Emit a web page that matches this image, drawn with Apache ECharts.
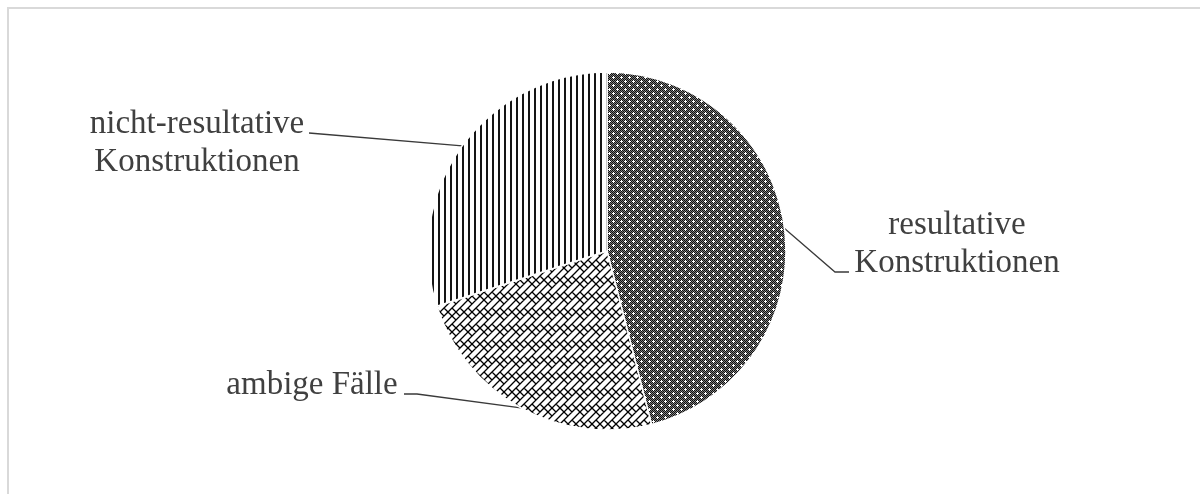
<!DOCTYPE html>
<html><head><meta charset="utf-8">
<script src="https://cdn.jsdelivr.net/npm/echarts@6/dist/echarts.min.js"></script>
<style>
html,body{margin:0;padding:0;background:#fff;overflow:hidden;width:1200px;height:494px;}
#frame{position:absolute;left:7px;top:7px;width:1400px;height:700px;border-left:2px solid #d9d9d9;border-top:2px solid #d9d9d9;}
#chart{position:absolute;left:0;top:0;width:1200px;height:494px;}
</style></head><body>
<div id="frame"></div><div id="chart"></div>
<script>
// ---- data ----
const categories = ['resultative\nKonstruktionen', 'ambige Fälle', 'nicht-resultative\nKonstruktionen'];
const values = [46, 24, 30];

// ---- label placement (layout only) ----
const labelSpots = [
  { x: 957, y: 244, bend: [835, 272], end: [849, 272] },
  { x: 312, y: 385, bend: [417, 394], end: [404, 394] },
  { x: 197, y: 143, bend: [309, 133], end: [309, 133] }
];

// ---- fill patterns ----
function makeTile(w, h, draw) {
  const c = document.createElement('canvas');
  c.width = w; c.height = h;
  const g = c.getContext('2d');
  draw(g, w, h);
  return c;
}
const dotTile = makeTile(8, 8, (g) => {
  for (let y = 0; y < 8; y++) for (let x = 0; x < 8; x++) {
    g.fillStyle = ((x + y) % 2 === 0) ? '#0e0e0e' : '#808080';
    g.fillRect(x, y, 1, 1);
  }
  g.fillStyle = '#ffffff';
  [[1, 1], [5, 5]].forEach(([cx, cy]) => {
    [[0, 0], [1, 0], [-1, 0], [0, 1], [0, -1]].forEach(([dx, dy]) => g.fillRect(cx + dx, cy + dy, 1, 1));
  });
});
const brickTile = makeTile(16, 16, (g) => {
  g.fillStyle = '#fff'; g.fillRect(0, 0, 16, 16);
  g.strokeStyle = '#000'; g.lineWidth = 1.3;
  g.beginPath();
  [0, 8, 16, 24, 32].forEach(c => { g.moveTo(c - 16 - 2, 16 + 2); g.lineTo(c + 2, -2); });
  g.moveTo(4, 4); g.lineTo(8, 8);
  g.moveTo(12, 4); g.lineTo(16, 8);
  g.moveTo(-4, 12); g.lineTo(0, 16);
  g.moveTo(12, 20); g.lineTo(16, 24);
  g.moveTo(4, 12); g.lineTo(8, 16);
  g.moveTo(4, -4); g.lineTo(8, 0);
  g.moveTo(8, 8); g.lineTo(12, 12);
  g.moveTo(0, 8); g.lineTo(4, 12);
  g.moveTo(16, 8); g.lineTo(20, 12);
  g.moveTo(8, -8); g.lineTo(12, -4);
  g.stroke();
});
const vlineTile = makeTile(6, 6, (g) => {
  g.fillStyle = '#fff'; g.fillRect(0, 0, 6, 6);
  g.fillStyle = '#151515'; g.fillRect(0, 0, 2, 6);
});
const patterns = [dotTile, brickTile, vlineTile];

const chart = echarts.init(document.getElementById('chart'), null, { renderer: 'canvas' });
chart.setOption({
  animation: false,
  backgroundColor: 'transparent',
  series: [{
    type: 'pie',
    center: [607, 251],
    radius: 179,
    startAngle: 90,
    clockwise: true,
    avoidLabelOverlap: false,
    data: categories.map((name, i) => ({
      name: name,
      value: values[i],
      itemStyle: { color: { image: patterns[i], repeat: 'repeat' } }
    })),
    itemStyle: { borderColor: '#ffffff', borderWidth: 1.5 },
    label: {
      show: true,
      position: 'outside',
      formatter: '{b}',
      fontFamily: 'Liberation Serif',
      fontSize: 33,
      lineHeight: 38,
      color: '#404040',
      align: 'center'
    },
    labelLine: {
      show: true,
      length: 20,
      length2: 20,
      smooth: false,
      lineStyle: { color: '#3a3a3a', width: 1.3 }
    },
    labelLayout: function (p) {
      const s = labelSpots[p.dataIndex];
      const out = { x: s.x, y: s.y, align: 'center', verticalAlign: 'middle' };
      if (p.labelLinePoints && p.labelLinePoints.length) {
        out.labelLinePoints = [p.labelLinePoints[0], s.bend, s.end];
      }
      return out;
    },
    emphasis: { disabled: true }
  }]
});
</script>
</body></html>
